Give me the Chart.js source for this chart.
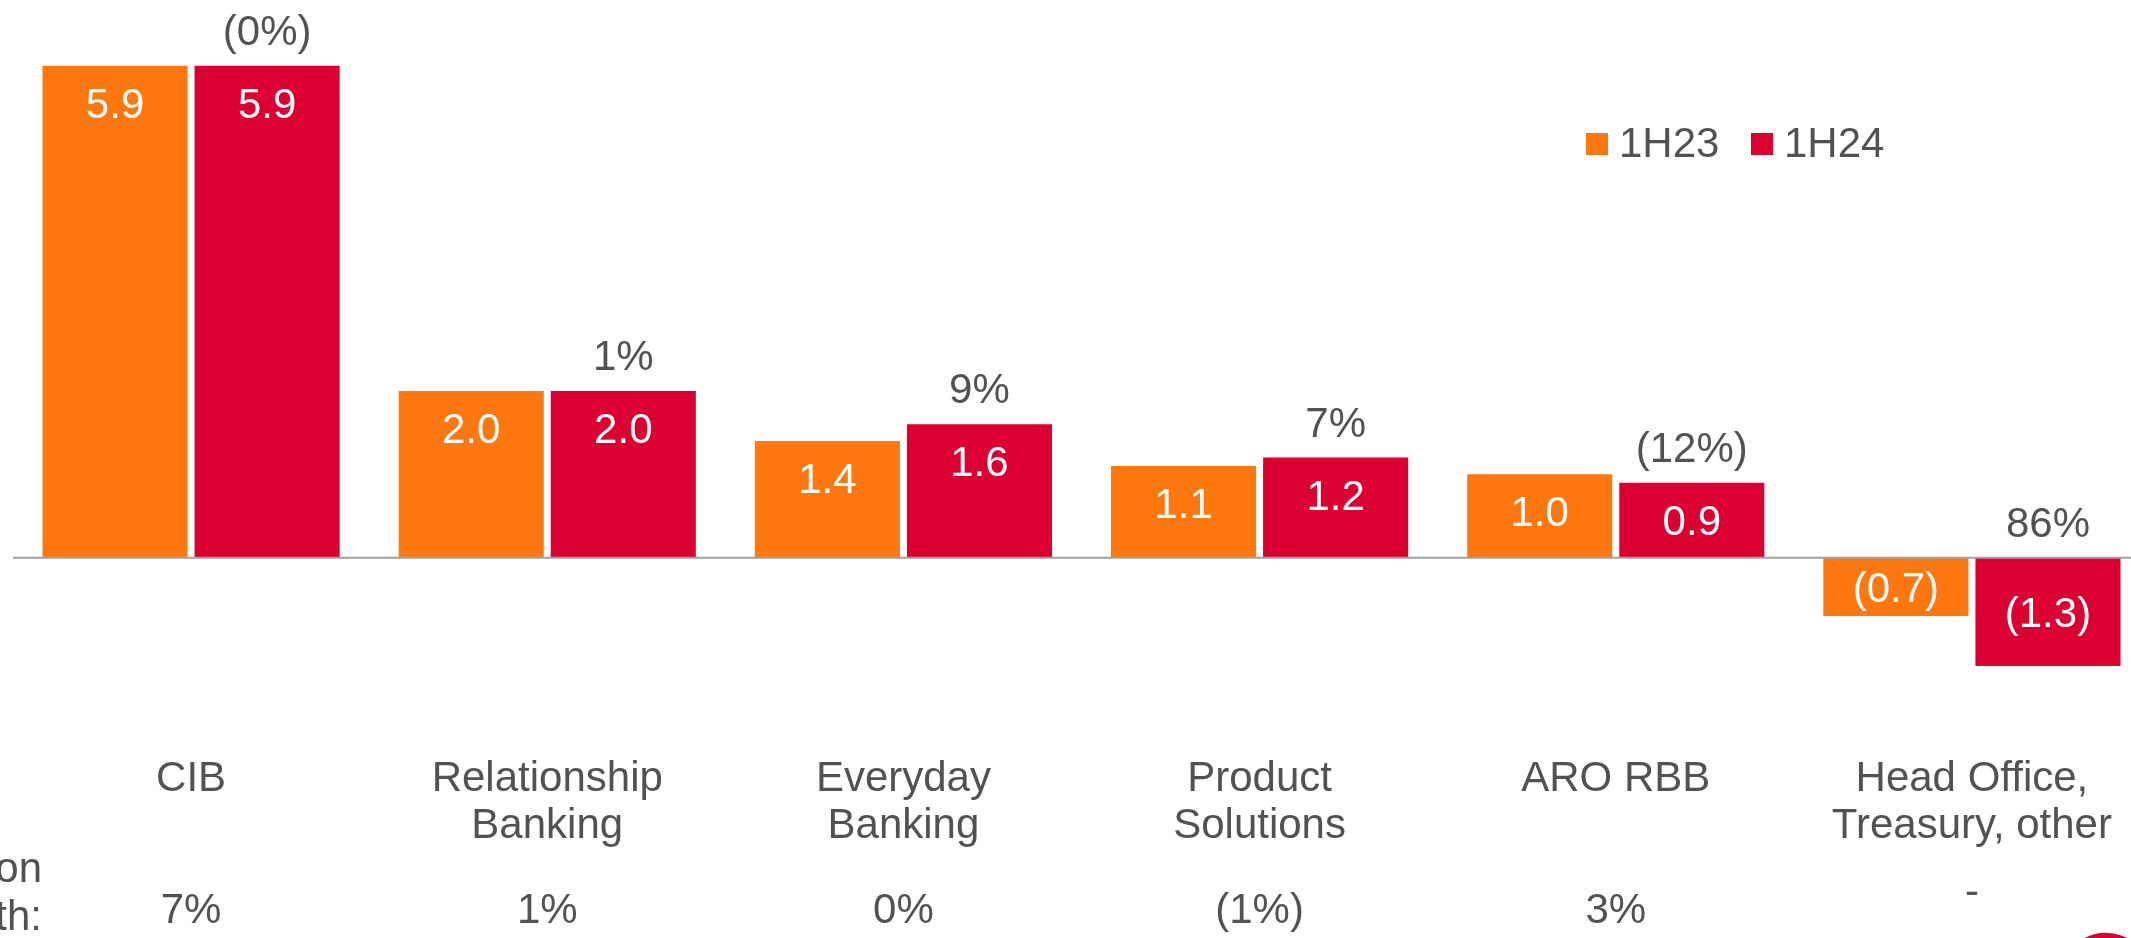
<!DOCTYPE html>
<html>
<head>
<meta charset="utf-8">
<title>Revenue by segment</title>
<script src="https://cdn.jsdelivr.net/npm/chart.js@4.4.1/dist/chart.umd.min.js"></script>
<style>
  html, body { margin: 0; padding: 0; background: #ffffff; overflow: hidden; }
  #wrap { width: 2150px; height: 938px; }
</style>
</head>
<body>
<div id="wrap"><canvas id="segmentChart" width="2150" height="938"></canvas></div>
<script>
// segments and values (Rbn)
const segments = [
  ['CIB'],
  ['Relationship', 'Banking'],
  ['Everyday', 'Banking'],
  ['Product', 'Solutions'],
  ['ARO RBB'],
  ['Head Office,', 'Treasury, other']
];
const values1H23 = [5.9, 2.0, 1.4, 1.1, 1.0, -0.7];
const values1H24 = [5.9, 2.0, 1.6, 1.2, 0.9, -1.3];
const yoyChange = ['(0%)', '1%', '9%', '7%', '(12%)', '86%'];
const ccyGrowth = ['7%', '1%', '0%', '(1%)', '3%', '-'];
const growthTitle = ['Excl. FX translation', 'growth:'];

const ORANGE = '#FF780F';
const RED = '#DC0032';
const GREY_TEXT = '#525252';
const FONT = '"Liberation Sans", Arial, sans-serif';

function fmt(v) {
  return v < 0 ? `(${Math.abs(v).toFixed(1)})` : v.toFixed(1);
}

// labels, zero line, legend and the bottom rows
const annotations = {
  id: 'annotations',
  afterDatasetsDraw(chart) {
    const ctx = chart.ctx;
    const x = chart.scales.x;
    const y = chart.scales.y;
    const zero = y.getPixelForValue(0);

    ctx.save();

    // zero line
    ctx.strokeStyle = '#A0A0A0';
    ctx.lineWidth = 2;
    ctx.beginPath();
    ctx.moveTo(chart.chartArea.left, zero);
    ctx.lineTo(chart.width, zero);
    ctx.stroke();

    ctx.font = `42px ${FONT}`;
    ctx.textAlign = 'center';
    ctx.textBaseline = 'alphabetic';

    // values inside bars
    chart.data.datasets.forEach((ds, di) => {
      chart.getDatasetMeta(di).data.forEach((bar, i) => {
        const v = ds.data[i];
        let base;
        if (v >= 0) base = bar.y + 52;
        else base = (bar.y + bar.base) / 2 + 15;
        ctx.fillStyle = '#ffffff';
        ctx.fillText(fmt(v), bar.x, base);
      });
    });

    // year on year change above the 1H24 bars
    const meta24 = chart.getDatasetMeta(1);
    meta24.data.forEach((bar, i) => {
      ctx.fillStyle = GREY_TEXT;
      ctx.fillText(yoyChange[i], bar.x, Math.min(bar.y, bar.base) - 21);
    });

    // category names
    segments.forEach((lines, i) => {
      const cx = x.getPixelForValue(i);
      lines.forEach((line, li) => {
        ctx.fillText(line, cx, 791 + li * 47);
      });
    });

    // constant currency growth row
    ccyGrowth.forEach((g, i) => {
      const cx = x.getPixelForValue(i);
      ctx.fillText(g, cx, g === '-' ? 905 : 923);
    });
    ctx.textAlign = 'right';
    ctx.fillText(growthTitle[0], 42, 882);
    ctx.fillText(growthTitle[1], 42, 930);

    // legend
    ctx.textAlign = 'left';
    const legendX = [1586, 1751];
    chart.data.datasets.forEach((ds, di) => {
      ctx.fillStyle = ds.backgroundColor;
      ctx.fillRect(legendX[di], 133, 22, 22);
      ctx.fillStyle = GREY_TEXT;
      ctx.fillText(ds.label, legendX[di] + 33, 157);
    });

    // logo edge in the corner
    ctx.strokeStyle = RED;
    ctx.lineWidth = 6;
    ctx.beginPath();
    ctx.arc(2106, 982, 46, Math.PI * 1.1, Math.PI * 1.9);
    ctx.stroke();

    ctx.restore();
  }
};

const ctx = document.getElementById('segmentChart').getContext('2d');
window.segmentChart = new Chart(ctx, {
  type: 'bar',
  data: {
    labels: segments.map(s => s.join(' ')),
    datasets: [
      {
        label: '1H23',
        data: values1H23,
        backgroundColor: ORANGE,
        borderWidth: 0,
        categoryPercentage: 0.854,
        barPercentage: 0.954
      },
      {
        label: '1H24',
        data: values1H24,
        backgroundColor: RED,
        borderWidth: 0,
        categoryPercentage: 0.854,
        barPercentage: 0.954
      }
    ]
  },
  options: {
    responsive: false,
    animation: false,
    devicePixelRatio: 1,
    layout: {
      padding: { top: 10, bottom: 213.5, left: 13, right: 0 }
    },
    scales: {
      x: { display: false },
      y: { display: false, min: -2.0, max: 6.567 }
    },
    plugins: {
      legend: { display: false },
      tooltip: { enabled: false }
    }
  },
  plugins: [annotations]
});
</script>
</body>
</html>
